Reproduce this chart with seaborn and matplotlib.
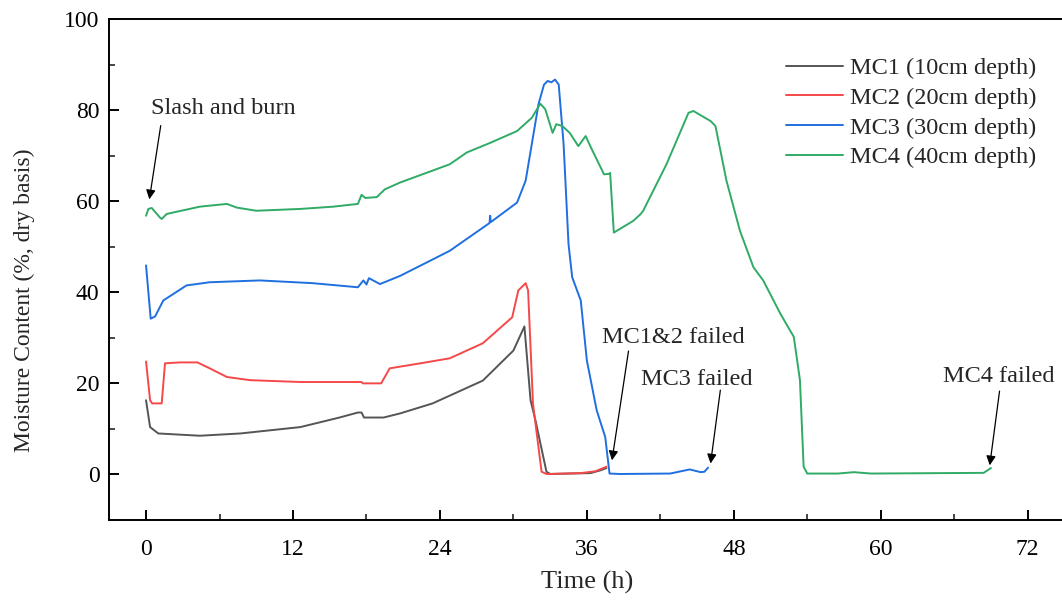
import numpy as np
import pandas as pd
import matplotlib
matplotlib.use("Agg")
import matplotlib.pyplot as plt
import seaborn as sns
from matplotlib.ticker import MultipleLocator

# ---- data (time in h, moisture content in %, dry basis) ----
mc1_t = [0, 0.33, 1.0, 4.4, 7.7, 12.6, 15.8, 17.3, 17.6, 17.8, 19.4, 20.75, 23.4, 27.5, 30.0, 30.9,
         31.4, 31.8, 32.7, 33.0, 36.3, 37.1, 37.6]
mc1_v = [16.3, 10.4, 9.0, 8.5, 9.0, 10.4, 12.5, 13.6, 13.6, 12.5, 12.5, 13.4, 15.6, 20.6, 27.2, 32.5,
         16.3, 11.9, 0.6, 0.1, 0.3, 0.9, 1.4]

mc2_t = [0, 0.33, 0.5, 1.28, 1.47, 1.55, 2.8, 4.2, 5.2, 6.6, 8.5, 12.6, 17.6, 17.7, 19.2, 19.9, 22.4,
         24.8, 27.5, 29.9, 30.4, 31.0, 31.2, 31.6, 32.3, 32.7, 35.5, 36.7, 37.6]
mc2_v = [24.8, 16.3, 15.6, 15.6, 21.8, 24.4, 24.6, 24.6, 23.3, 21.4, 20.7, 20.3, 20.3, 20.0, 20.0, 23.3,
         24.4, 25.5, 28.8, 34.5, 40.4, 42.0, 40.4, 15.5, 0.6, 0.1, 0.3, 0.7, 1.7]

mc3_t = [0, 0.38, 0.74, 1.41, 3.3, 5.2, 9.3, 13.6, 17.3, 17.75, 18.0, 18.2, 19.1, 20.75, 24.8, 28.05,
         28.1, 28.15, 30.3, 31.0, 31.5, 32.05, 32.5, 32.8, 33.1, 33.4, 33.7, 34.1, 34.5, 34.8, 35.5,
         36.0, 36.8, 37.5, 37.85, 38.7, 42.8, 44.4, 45.3, 45.6, 45.9]
mc3_v = [45.9, 34.2, 34.7, 38.2, 41.5, 42.2, 42.6, 42.0, 41.1, 42.6, 41.7, 43.1, 41.8, 43.6, 49.1, 55.2,
         56.8, 55.4, 59.7, 64.5, 72.5, 81.3, 85.6, 86.4, 86.1, 86.7, 85.6, 72.5, 50.6, 43.3, 38.2,
         25.0, 14.1, 8.2, 0.2, 0.1, 0.2, 1.1, 0.5, 0.6, 1.5]

mc4_t = [0, 0.19, 0.47, 1.14, 1.28, 1.69, 4.4, 6.6, 7.4, 9.0, 12.6, 15.3, 17.3, 17.6, 17.9, 18.85,
         19.5, 20.75, 24.8, 26.2, 28.1, 30.3, 31.5, 32.2, 32.6, 33.2, 33.5, 34.0, 34.6, 35.3, 35.9,
         36.4, 37.4, 37.8, 37.9, 38.2, 39.8, 40.4, 40.6, 42.5, 44.3, 44.7, 46.1, 46.5, 47.4, 48.5,
         49.6, 50.4, 51.8, 52.9, 53.4, 53.7, 54.0, 56.5, 57.8, 59.2, 68.4, 69.0]
mc4_v = [56.8, 58.3, 58.5, 56.4, 56.1, 57.2, 58.8, 59.4, 58.6, 57.9, 58.3, 58.8, 59.4, 61.4, 60.7, 60.9,
         62.6, 64.1, 68.1, 70.7, 72.8, 75.4, 78.3, 81.4, 80.2, 75.0, 76.9, 76.5, 75.0, 72.1, 74.3,
         71.4, 65.9, 66.0, 66.2, 53.1, 55.7, 57.2, 57.9, 68.1, 79.4, 79.8, 77.6, 76.5, 64.5, 53.5,
         45.5, 42.6, 35.3, 30.2, 20.7, 1.7, 0.2, 0.2, 0.5, 0.2, 0.35, 1.4]

series_names = ["MC1 (10cm depth)", "MC2 (20cm depth)", "MC3 (30cm depth)", "MC4 (40cm depth)"]
series_colors = ["#555555", "#f54848", "#1f6fe0", "#2fab66"]

xticks = [0, 12, 24, 36, 48, 60, 72]
yticks = [0, 20, 40, 60, 80, 100]

# ---- build long table ----
frames = []
for name, t, v in zip(series_names, [mc1_t, mc2_t, mc3_t, mc4_t], [mc1_v, mc2_v, mc3_v, mc4_v]):
    frames.append(pd.DataFrame({"Time": t, "MC": v, "Sensor": name}))
df = pd.concat(frames, ignore_index=True)

sns.set_theme(style="ticks")
plt.rcParams["font.family"] = ["Liberation Serif", "DejaVu Serif"]

fig = plt.figure(figsize=(10.62, 6.03), dpi=100)
ax = fig.add_axes([109.3 / 1062, 83 / 603, 1 - 109.3 / 1062, (520 - 19) / 603])

sns.lineplot(data=df, x="Time", y="MC", hue="Sensor", hue_order=series_names,
             palette=dict(zip(series_names, series_colors)), sort=False, estimator=None,
             units="Sensor", linewidth=1.4, ax=ax)

ax.set_xlim(-3.0, 74.8)
ax.set_ylim(-10, 100)
ax.set_xticks(xticks)
ax.set_yticks(yticks)
ax.xaxis.set_minor_locator(MultipleLocator(6))
ax.yaxis.set_minor_locator(MultipleLocator(10))
ax.tick_params(which="major", direction="in", length=7, width=1.4, labelsize=17, colors="black")
ax.tick_params(which="minor", direction="in", length=4, width=1.2)
ax.tick_params(axis="y", pad=7)
ax.tick_params(axis="x", pad=14)
for s in ["left", "bottom", "top"]:
    ax.spines[s].set_linewidth(1.4)
    ax.spines[s].set_color("black")
ax.spines["right"].set_visible(False)

ax.set_xlabel("Time (h)", fontsize=19)
ax.set_ylabel("Moisture Content (%, dry basis)", fontsize=17)
ax.xaxis.set_label_coords((587 - 109.3) / 952.7, (520 - 571) / 501)
ax.yaxis.set_label_coords((35 - 109.3) / 952.7, (520 - 300) / 501)

handles, labels = ax.get_legend_handles_labels()
ax.legend(handles, labels, loc="upper right", bbox_to_anchor=(1036 / 1062, 1 - 57 / 603),
          bbox_transform=fig.transFigure, frameon=False, fontsize=17.5, handlelength=2.35,
          handletextpad=0.25, labelspacing=0.32, borderpad=0, borderaxespad=0)

arrow = dict(arrowstyle="-|>", color="black", lw=0.9, mutation_scale=14, shrinkA=0, shrinkB=0)
ax.annotate("", xy=(0.27, 60.4), xytext=(1.2, 76.6), arrowprops=arrow)
ax.text(0.4, 80.4, "Slash and burn", fontsize=17.5, ha="left", va="center")
ax.annotate("", xy=(38.05, 3.1), xytext=(39.4, 27.1), arrowprops=arrow)
ax.text(37.2, 30.1, "MC1&2 failed", fontsize=17.5, ha="left", va="center")
ax.annotate("", xy=(46.1, 2.4), xytext=(46.9, 18.5), arrowprops=arrow)
ax.text(40.4, 20.9, "MC3 failed", fontsize=17.5, ha="left", va="center")
ax.annotate("", xy=(68.9, 2.0), xytext=(69.7, 18.3), arrowprops=arrow)
ax.text(65.1, 21.5, "MC4 failed", fontsize=17.5, ha="left", va="center")

fig.savefig("out.png", dpi=100)
